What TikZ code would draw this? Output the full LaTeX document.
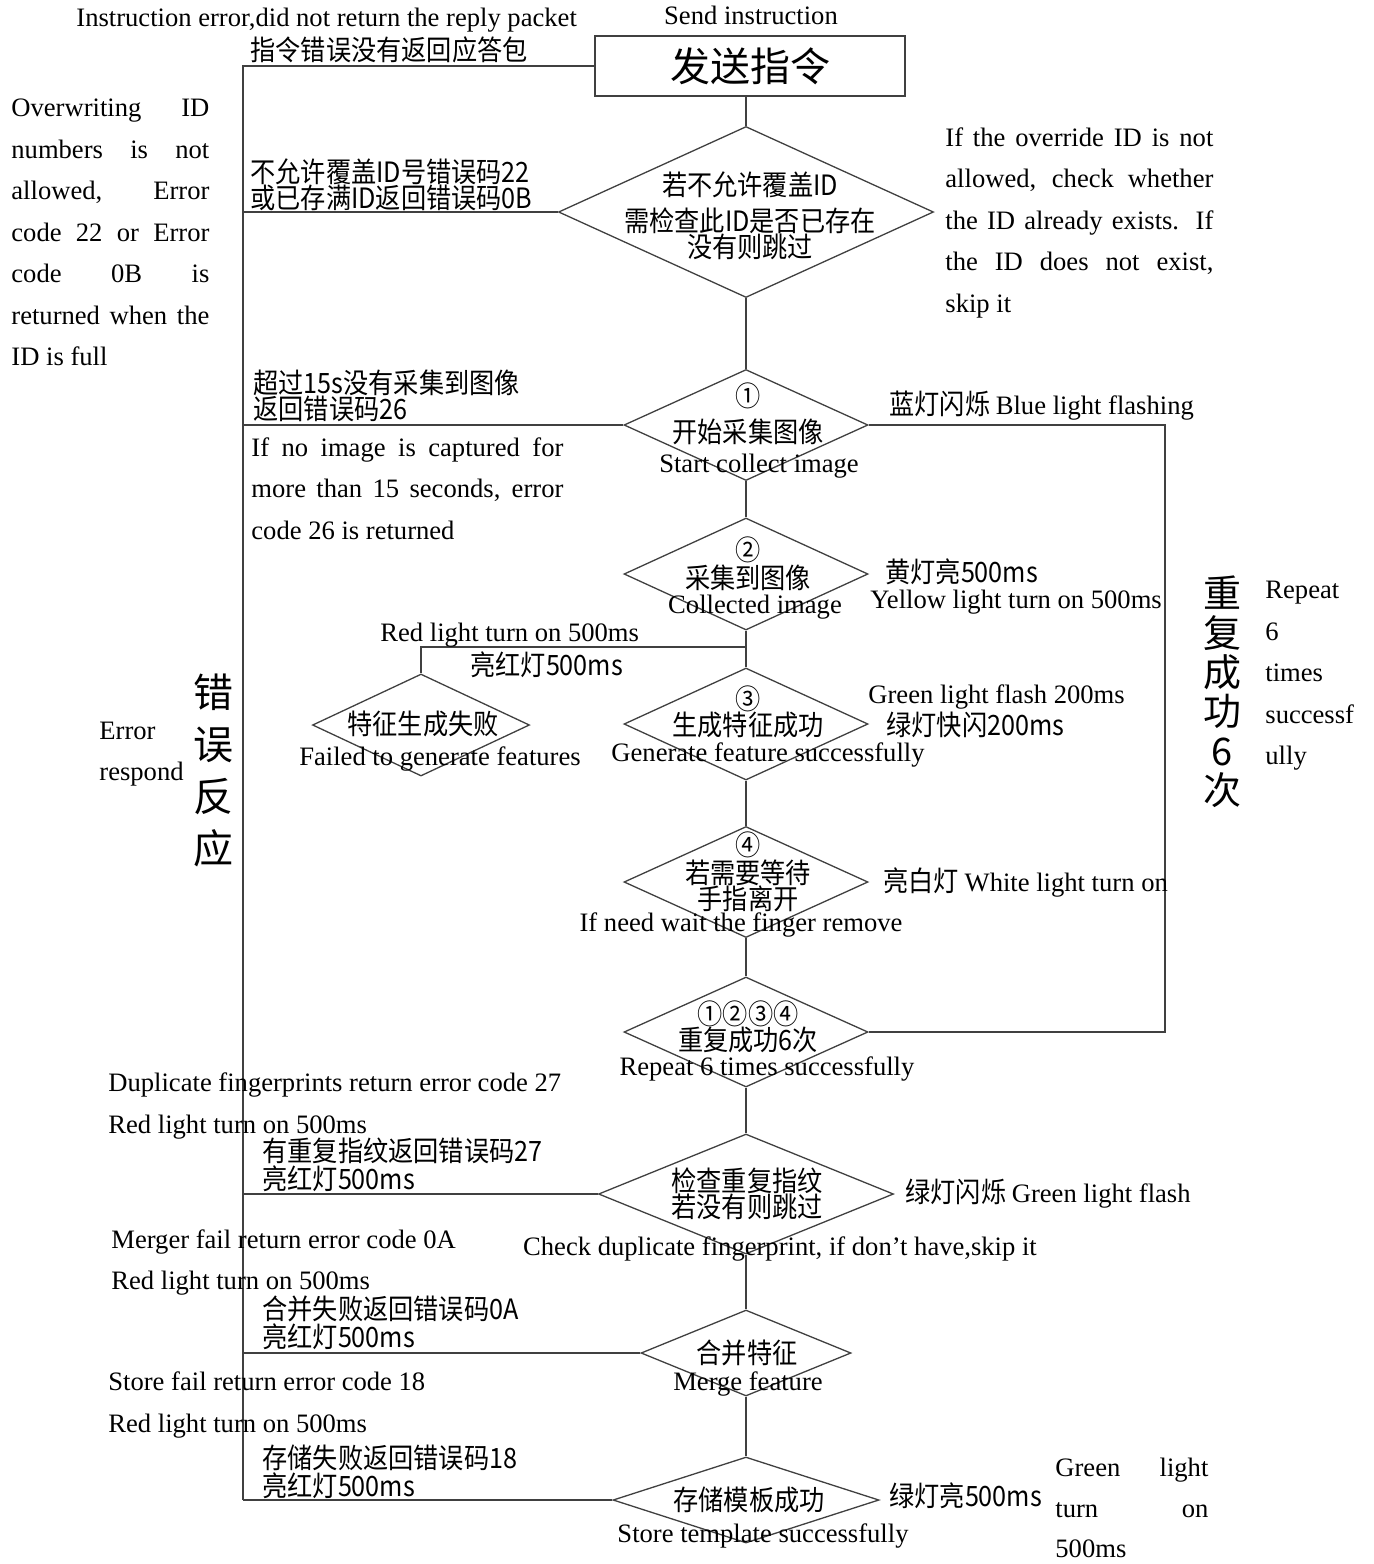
\documentclass[tikz,border=0pt]{standalone}
\usepackage{fontspec}
\setmainfont{Liberation Serif}
\newfontfamily\cjk[FakeStretch=0.9]{Noto Sans CJK SC}
\newfontfamily\cjkbig{Noto Sans CJK SC}
\usetikzlibrary{shapes.geometric}
\newcommand{\ent}[1]{{\rmfamily\fontsize{13.3}{13.3}\selectfont #1}}
\newcommand{\spr}[2]{\makebox[#1][s]{#2}}
\tikzset{
  conn/.style={draw=black!75, line width=0.65pt},
  dia/.style={shape=diamond, draw=black!75, line width=0.65pt, inner sep=0pt},
  en/.style={font=\rmfamily\fontsize{13.3}{20.75}\selectfont, inner sep=0pt},
  zh/.style={font=\cjk\fontsize{14}{13}\selectfont, inner sep=0pt},
  bigzh/.style={font=\cjkbig\fontsize{20}{26}\selectfont, inner sep=0pt},
}
\begin{document}
\begin{tikzpicture}[x=0.5pt,y=-0.5pt]
\useasboundingbox (0,0) rectangle (1373,1564);
\fill[white] (0,0) rectangle (1373,1564);

% ---- shapes ----
\node[draw=black!75, line width=0.65pt, minimum width=155pt, minimum height=30pt, bigzh] (box) at (750,66) {发送指令};
\node[dia, minimum width=187.5pt, minimum height=85.5pt] (d1) at (746,212) {};
\node[dia, minimum width=122pt, minimum height=55.5pt] (d2) at (746,425) {};
\node[dia, minimum width=122pt, minimum height=56pt] (d3) at (746,574) {};
\node[dia, minimum width=108.5pt, minimum height=51pt] (df) at (421,725) {};
\node[dia, minimum width=122pt, minimum height=56pt] (d4) at (746,724) {};
\node[dia, minimum width=122pt, minimum height=55.5pt] (d5) at (746,882) {};
\node[dia, minimum width=122pt, minimum height=55pt] (d6) at (746,1032) {};
\node[dia, minimum width=147.5pt, minimum height=60pt] (d7) at (746,1194) {};
\node[dia, minimum width=105pt, minimum height=43pt] (d8) at (746,1353) {};
\node[dia, minimum width=133pt, minimum height=43pt] (d9) at (746,1500) {};

% ---- connectors ----
\coordinate (busT) at (243,66);
\coordinate (loopx) at (1165,425);
\coordinate (split) at (746,647);
\draw[conn] (d1.north |- box.south) -- (d1.north);
\draw[conn] (d1.south) -- (d2.north);
\draw[conn] (d2.south) -- (d3.north);
\draw[conn] (d3.south) -- (d4.north);
\draw[conn] (split) -| (df.north);
\draw[conn] (d4.south) -- (d5.north);
\draw[conn] (d5.south) -- (d6.north);
\draw[conn] (d6.south) -- (d7.north);
\draw[conn] (d7.south) -- (d8.north);
\draw[conn] (d8.south) -- (d9.north);
\draw[conn] (box.west) -- (busT) -- (d9.west -| busT);
\draw[conn] (d1.west) -- (d1.west -| busT);
\draw[conn] (d2.west) -- (d2.west -| busT);
\draw[conn] (d7.west) -- (d7.west -| busT);
\draw[conn] (d8.west) -- (d8.west -| busT);
\draw[conn] (d9.west) -- (d9.west -| busT);
\draw[conn] (d2.east) -- (d2.east -| loopx) -- (d6.east -| loopx) -- (d6.east);

% ---- texts in shapes ----
\node[zh, align=center] (d1t) at (750,216) {若不允许覆盖ID\\[4pt]需检查此ID是否已存在\\没有则跳过};
\node[zh, align=center] (d2t) at (748,413.5) {①\\[4pt]开始采集图像};
\node[zh, align=center] (d3t) at (748,563.5) {②\\采集到图像};
\node[zh, align=center] (d4t) at (748,711.5) {③\\生成特征成功};
\node[zh, align=center] (d5t) at (748,872) {④\\若需要等待\\手指离开};
\node[zh, align=center] (d6t) at (748,1027) {①②③④\\重复成功6次};
\node[zh, align=center] (d7t) at (747,1194) {检查重复指纹\\若没有则跳过};
\node[zh] (d8t) at (747,1353) {合并特征};
\node[zh] (d9t) at (749,1500) {存储模板成功};
\node[zh] (dft) at (423,724) {特征生成失败};

% ---- english under shapes ----
\node[en] (sendE) at (751,15) {Send instruction};
\node[en] (d2e) at (759,466) {Start collect image};
\node[en] (d3e) at (755,607) {Collected image};
\node[en] (dfe) at (440,759) {Failed to generate features};
\node[en] (d4e) at (768,755) {Generate feature successfully};
\node[en] (d5e) at (741,925) {If need wait the finger remove};
\node[en] (d6e) at (767,1069) {Repeat 6 times successfully};
\node[en] (d7e) at (780,1249) {Check duplicate fingerprint, if don’t have,skip it};
\node[en] (d8e) at (748,1384) {Merge feature};
\node[en] (d9e) at (763,1536) {Store template successfully};

% ---- left labels ----
\node[en, anchor=west] (errE) at (76,20) {Instruction error,did not return the reply packet};
\node[zh, anchor=west] (errZ) at (250,50) {指令错误没有返回应答包};
\node[zh, anchor=west, align=left] (idZ) at (250,184.5) {不允许覆盖ID号错误码22\\或已存满ID返回错误码0B};
\node[en, anchor=west, align=left] (idE) at (11,232.5) {\spr{99pt}{Overwriting ID}\\\spr{99pt}{numbers is not}\\\spr{99pt}{allowed, Error}\\\spr{99pt}{code 22 or Error}\\\spr{99pt}{code 0B is}\\\spr{99pt}{returned when the}\\ID is full};
\node[zh, anchor=west, align=left] (imgZ) at (253,396) {超过15s没有采集到图像\\返回错误码26};
\node[en, anchor=west, align=left] (imgE) at (251,488.5) {\spr{156pt}{If no image is captured for}\\\spr{156pt}{more than 15 seconds, error}\\code 26 is returned};
\node[en, anchor=west] (redE1) at (380,635) {Red light turn on 500ms};
\node[zh, anchor=west] (redZ1) at (470,665) {亮红灯500ms};
\node[en, anchor=west, align=left] (dupE) at (108,1106) {Duplicate fingerprints return error code 27\\Red light turn on 500ms};
\node[zh, anchor=west, align=left] (dupZ) at (262,1165) {有重复指纹返回错误码27\\亮红灯500ms};
\node[en, anchor=west, align=left] (merE) at (111,1262.5) {Merger fail return error code 0A\\Red light turn on 500ms};
\node[zh, anchor=west, align=left] (merZ) at (262,1323) {合并失败返回错误码0A\\亮红灯500ms};
\node[en, anchor=west, align=left] (stoE) at (108,1405) {Store fail return error code 18\\Red light turn on 500ms};
\node[zh, anchor=west, align=left] (stoZ) at (262,1472) {存储失败返回错误码18\\亮红灯500ms};
\node[en, anchor=west, align=left] (erE) at (99,754) {Error\\respond};
\node[bigzh, align=center] (erZ) at (213,770.5) {错\\误\\反\\应};

% ---- right labels ----
\node[en, anchor=west, align=left] (ovE) at (945,222.5) {\spr{134pt}{If the override ID is not}\\\spr{134pt}{allowed, check whether}\\\spr{134pt}{the ID already exists. If}\\\spr{134pt}{the ID does not exist,}\\skip it};
\node[zh, anchor=west] (blue) at (889,406) {蓝灯闪烁 \ent{Blue light flashing}};
\node[zh, anchor=west] (yelZ) at (885,572) {黄灯亮500ms};
\node[en, anchor=west] (yelE) at (870,602) {Yellow light turn on 500ms};
\node[en, anchor=west] (grnE) at (868,697) {Green light flash 200ms};
\node[zh, anchor=west] (grnZ) at (886,725) {绿灯快闪200ms};
\node[zh, anchor=west] (white) at (883,883) {亮白灯 \ent{White light turn on}};
\node[zh, anchor=west] (grnF) at (905,1194) {绿灯闪烁 \ent{Green light flash}};
\node[zh, anchor=west] (grnL) at (889,1496) {绿灯亮500ms};
\node[en, anchor=west, align=left, font=\rmfamily\fontsize{13.3}{20.25}\selectfont] (grnLE) at (1055,1508) {\spr{76.5pt}{Green light}\\\spr{76.5pt}{turn on}\\500ms};
\node[font=\cjkbig\fontsize{19}{19.7}\selectfont, inner sep=0pt, align=center] (repZ) at (1222,692) {重\\复\\成\\功\\6\\次};
\node[en, anchor=west, align=left] (repE) at (1265,676) {Repeat\\6\\times\\successf\\ully};
\end{tikzpicture}
\end{document}
